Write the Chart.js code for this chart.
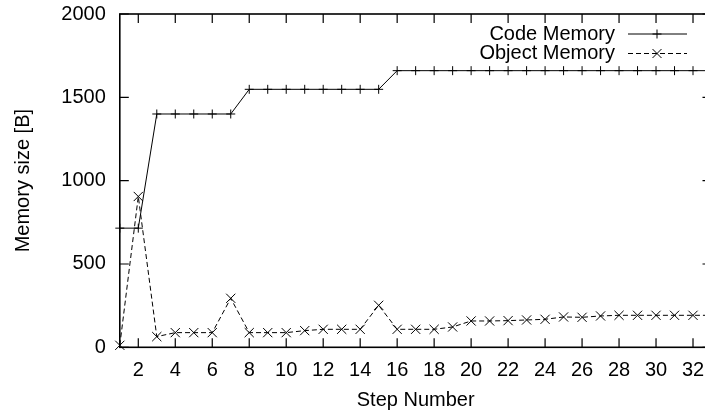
<!DOCTYPE html>
<html>
<head>
<meta charset="utf-8">
<script src="https://cdn.jsdelivr.net/npm/chart.js@4.4.1/dist/chart.umd.min.js"></script>
<style>
  html, body { margin: 0; padding: 0; background: #fff; overflow: hidden; }
  #wrap { width: 720px; height: 412px; }
</style>
</head>
<body>
<div id="wrap"><canvas id="memChart" width="720" height="412"></canvas></div>
<script>
// data
const steps = [1, 2, 3, 4, 5, 6, 7, 8, 9, 10, 11, 12, 13, 14, 15, 16, 17, 18, 19, 20,
               21, 22, 23, 24, 25, 26, 27, 28, 29, 30, 31, 32, 33];
const codeMemory = [715, 715, 1400, 1400, 1400, 1400, 1400, 1548, 1548, 1548, 1548, 1548,
                    1548, 1548, 1548, 1660, 1660, 1660, 1660, 1660, 1660, 1660, 1660, 1660,
                    1660, 1660, 1660, 1660, 1660, 1660, 1660, 1660, 1660];
const objectMemory = [12, 905, 64, 88, 88, 88, 294, 88, 88, 88, 100, 108, 108, 108, 252, 108,
                      108, 108, 122, 158, 158, 160, 164, 168, 182, 180, 188, 192, 192, 192,
                      192, 192, 192];
const xTicks = [2, 4, 6, 8, 10, 12, 14, 16, 18, 20, 22, 24, 26, 28, 30, 32];
const yTicks = [0, 500, 1000, 1500, 2000];

const FONT = '"Liberation Sans", Arial, Helvetica, sans-serif';

// gnuplot style frame: border + inward ticks on all four sides
const framePlugin = {
    id: 'frame',
    afterDatasetsDraw(chart) {
        const { ctx, chartArea: a, scales } = chart;
        const tl = 9;
        ctx.save();
        ctx.strokeStyle = '#000';
        ctx.lineWidth = 1.2;
        ctx.beginPath();
        xTicks.forEach(v => {
            const px = scales.x.getPixelForValue(v);
            ctx.moveTo(px, a.bottom); ctx.lineTo(px, a.bottom - tl);
            ctx.moveTo(px, a.top); ctx.lineTo(px, a.top + tl);
        });
        yTicks.forEach(v => {
            const py = scales.y.getPixelForValue(v);
            ctx.moveTo(a.left, py); ctx.lineTo(a.left + tl, py);
            ctx.moveTo(a.right, py); ctx.lineTo(a.right - tl, py);
        });
        ctx.stroke();
        ctx.lineWidth = 1.6;
        ctx.strokeRect(a.left, a.top, a.right - a.left, a.bottom - a.top);

        // legend, text on the left of the sample like gnuplot
        ctx.font = '20px ' + FONT;
        ctx.textAlign = 'right';
        ctx.textBaseline = 'middle';
        ctx.fillStyle = '#000';
        const rows = [34, 53.5];
        chart.data.datasets.forEach((ds, i) => {
            const y = rows[i];
            ctx.fillText(ds.label, 615, y);
            ctx.lineWidth = 1;
            ctx.setLineDash(ds.borderDash || []);
            ctx.beginPath();
            ctx.moveTo(628, y); ctx.lineTo(687, y);
            ctx.stroke();
            ctx.setLineDash([]);
            const r = 4.5;
            ctx.beginPath();
            if (ds.pointStyle === 'cross') {
                ctx.moveTo(657 - r, y); ctx.lineTo(657 + r, y);
                ctx.moveTo(657, y - r); ctx.lineTo(657, y + r);
            } else {
                ctx.moveTo(657 - r, y - r); ctx.lineTo(657 + r, y + r);
                ctx.moveTo(657 - r, y + r); ctx.lineTo(657 + r, y - r);
            }
            ctx.stroke();
        });
        ctx.restore();
    }
};

new Chart(document.getElementById('memChart'), {
    type: 'line',
    data: {
        datasets: [
            {
                label: 'Code Memory',
                data: steps.map((s, i) => ({ x: s, y: codeMemory[i] })),
                borderColor: '#000',
                borderWidth: 1,
                pointStyle: 'cross',
                pointRadius: 4.5,
                pointBorderColor: '#000',
                pointBorderWidth: 1,
                tension: 0,
                clip: false,
            },
            {
                label: 'Object Memory',
                data: steps.map((s, i) => ({ x: s, y: objectMemory[i] })),
                borderColor: '#000',
                borderWidth: 1,
                borderDash: [5, 3],
                pointStyle: 'crossRot',
                pointRadius: 6.5,
                pointBorderColor: '#000',
                pointBorderWidth: 1,
                tension: 0,
                clip: false,
            },
        ],
    },
    options: {
        responsive: false,
        animation: false,
        events: [],
        layout: { padding: { top: 14, right: 8.5, left: 0, bottom: 0 } },
        plugins: {
            legend: { display: false },
            tooltip: { enabled: false },
        },
        scales: {
            x: {
                type: 'linear',
                min: 1,
                max: 33,
                afterBuildTicks: s => { s.ticks = xTicks.map(v => ({ value: v })); },
                afterFit: s => {
                    s.height = 64.7;
                    s.paddingLeft = 0;
                    s.paddingRight = 0;
                },
                grid: { display: false, drawTicks: false },
                border: { display: false },
                ticks: {
                    autoSkip: false,
                    maxRotation: 0,
                    padding: 11,
                    color: '#000',
                    font: { family: FONT, size: 20 },
                    callback: v => String(v),
                },
                title: {
                    display: true,
                    text: 'Step Number',
                    color: '#000',
                    font: { family: FONT, size: 20 },
                    padding: { top: 0, bottom: 0 },
                },
            },
            y: {
                min: 0,
                max: 2000,
                afterBuildTicks: s => { s.ticks = yTicks.map(v => ({ value: v })); },
                afterFit: s => {
                    s.width = 119.8;
                    s.paddingTop = 0;
                    s.paddingBottom = 0;
                },
                grid: { display: false, drawTicks: false },
                border: { display: false },
                ticks: {
                    padding: 14,
                    color: '#000',
                    font: { family: FONT, size: 20 },
                    callback: v => String(v),
                },
                title: {
                    display: true,
                    text: 'Memory size [B]',
                    color: '#000',
                    font: { family: FONT, size: 20 },
                    padding: { top: 11.5, bottom: 0 },
                },
            },
        },
    },
    plugins: [framePlugin],
});
</script>
</body>
</html>
